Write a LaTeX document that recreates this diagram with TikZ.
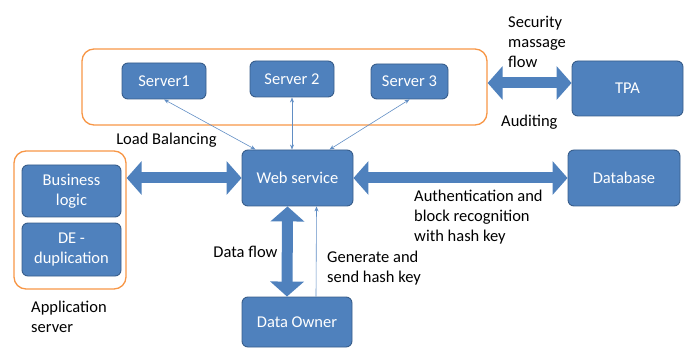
\documentclass[tikz,border=0pt]{standalone}
\usepackage{fontspec}
\setmainfont{Carlito}
\usepackage{tikz}
\usetikzlibrary{arrows.meta, positioning}
\usepackage[dvipsnames]{xcolor}
\definecolor{boxblue}{HTML}{4F81BD}
\definecolor{boxline}{HTML}{385D8A}
\definecolor{grouporange}{HTML}{F79646}

\begin{document}
\begin{tikzpicture}[x=1pt, y=1pt,
    font=\fontsize{16.5}{20}\selectfont,
    block/.style={draw=boxline, line width=0.9pt, fill=boxblue, text=white, rounded corners=6pt, align=center, inner sep=0pt},
    group/.style={draw=grouporange, line width=1.3pt, rounded corners=12pt, inner sep=0pt},
    bigflow/.style={draw=boxblue, line width=11pt, {Triangle[length=15pt, width=33pt]}-{Triangle[length=15pt, width=33pt]}},
    thinflow/.style={draw=boxblue!90, line width=0.6pt, {Stealth[length=5pt, width=4pt]}-{Stealth[length=5pt, width=4pt]}},
    lbl/.style={align=left, inner sep=0pt}]
  \useasboundingbox (0,0) rectangle (684,348);
  % server tier
  \node[group, minimum width=405pt, minimum height=76pt] (tier) at (284.5,261) {};
  \node[block, minimum width=84pt, minimum height=36pt] (server1) at (164,267) {Server1};
  \node[block, minimum width=84pt, minimum height=36pt] (server2) at (292,269) {Server 2};
  \node[block, minimum width=77pt, minimum height=35pt] (server3) at (409.5,266.5) {Server 3};
  \node[block, minimum width=111pt, minimum height=55pt] (tpa) at (627.5,259.5) {TPA};
  % middle row
  \node[block, minimum width=111pt, minimum height=56pt] (web) at (297.5,170) {Web service};
  \node[block, minimum width=112pt, minimum height=56pt] (db) at (624,170) {Database};
  \node[group, minimum width=112pt, minimum height=138pt] (app) at (70,128) {};
  \node[block, minimum width=99pt, minimum height=52pt] (logic) at (71.5,157) {Business\\logic};
  \node[block, minimum width=99pt, minimum height=53pt] (dedup) at (71.5,98.5) {DE -\\duplication};
  \node[block, minimum width=110pt, minimum height=50pt] (owner) at (297,26) {Data Owner};
  % labels
  \node[lbl, anchor=west] (secmsg) at (508,306) {Security\\massage\\flow};
  \node[lbl, anchor=west] (audit) at (501,226) {Auditing};
  \node[lbl] (lb) at (166.5,208) {Load Balancing};
  \node[lbl, anchor=west] (auth) at (414,131) {Authentication and\\block recognition\\with hash key};
  \node[lbl] (dflow) at (245.5,96) {Data flow};
  \node[lbl, anchor=west] (hashkey) at (327,80) {Generate and\\send hash key};
  \node[lbl, anchor=west] (appsrv) at (31,31) {Application\\server};
  % thick flows
  \draw[bigflow] ([yshift=4pt]tier.east) -- ([yshift=4pt]tier.east -| tpa.west);
  \draw[bigflow] (app.east |- web.west) -- (web.west);
  \draw[bigflow] (web.east) -- (db.west);
  \draw[bigflow] ([xshift=-10pt]web.south) -- ([xshift=-10pt]owner.north);
  % thin flows
  \draw[thinflow] (server1.south) -- ([xshift=-42pt]web.north);
  \draw[thinflow] (server2.south) -- (server2.south |- web.north);
  \draw[thinflow] (server3.south) -- ([xshift=32pt]web.north);
  \draw[thinflow, arrows={-Stealth[length=5pt, width=4pt]}] ([xshift=19pt]owner.north) -- ([xshift=19pt]web.south);
\end{tikzpicture}
\end{document}
